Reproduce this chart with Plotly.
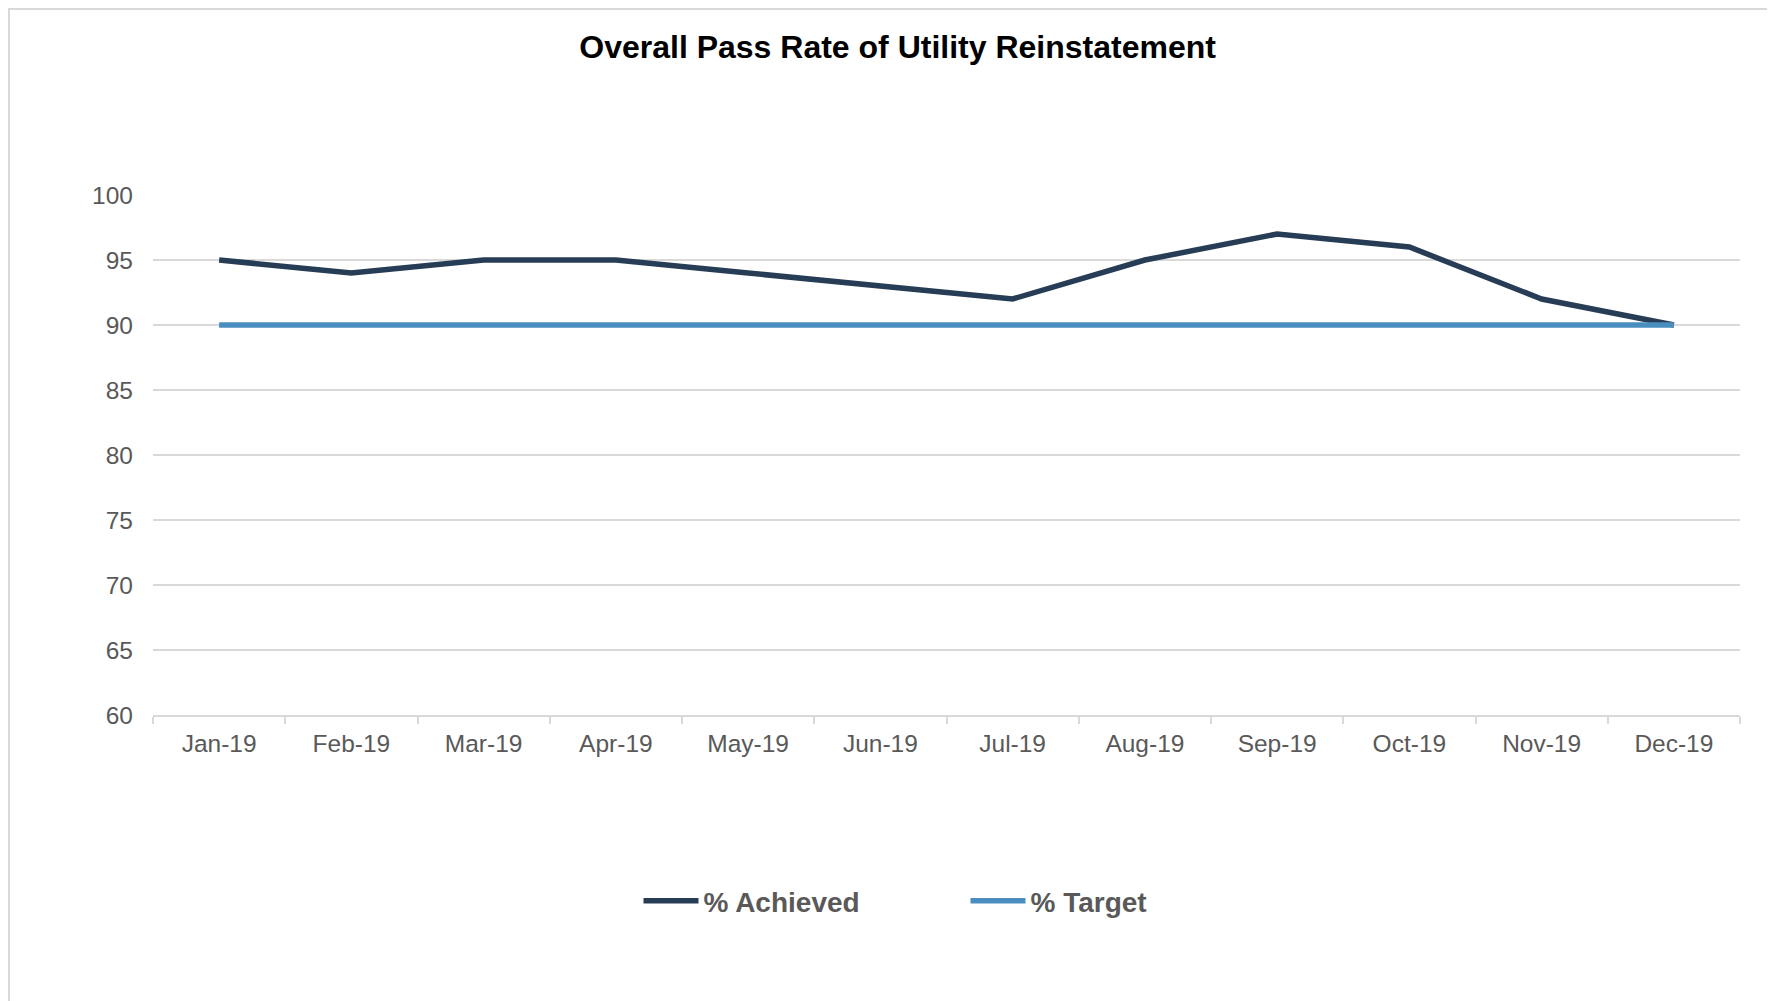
import plotly.graph_objects as go

months = ["Jan-19", "Feb-19", "Mar-19", "Apr-19", "May-19", "Jun-19",
          "Jul-19", "Aug-19", "Sep-19", "Oct-19", "Nov-19", "Dec-19"]
achieved = [95, 94, 95, 95, 94, 93, 92, 95, 97, 96, 92, 90]
target = [90, 90, 90, 90, 90, 90, 90, 90, 90, 90, 90, 90]
y_ticks = [60, 65, 70, 75, 80, 85, 90, 95, 100]

FONT = "Arial, 'Liberation Sans', sans-serif"
GRID = "#D9D9D9"
TEXT = "#595959"

fig = go.Figure()
fig.add_trace(go.Scatter(x=months, y=achieved, mode="lines", name="% Achieved",
                         line=dict(color="#263D55", width=5.5)))
fig.add_trace(go.Scatter(x=months, y=target, mode="lines", name="% Target",
                         line=dict(color="#4A8EC0", width=5.5)))

W, H = 1767, 993
L, R, T, B = 145, 35, 187, 286
pw = W - L - R
ph = H - T - B

def px_x(x):
    return (x - L) / pw

def px_y(y):
    return (H - B - y) / ph

fig.update_layout(
    width=W, height=H, autosize=False,
    margin=dict(l=L, r=R, t=T, b=B, autoexpand=False),
    paper_bgcolor="white", plot_bgcolor="white",
    font=dict(family=FONT, color=TEXT),
    title=dict(text="<b>Overall Pass Rate of Utility Reinstatement</b>",
               x=889.6 / W, xref="container", xanchor="center",
               y=1 - 39 / H, yref="container", yanchor="middle",
               font=dict(family=FONT, size=32, color="#000000")),
    xaxis=dict(type="category", showgrid=False, showline=True, linecolor=GRID, linewidth=2,
               ticks="outside", tickson="boundaries", ticklen=7, tickcolor=GRID, tickwidth=2,
               tickfont=dict(family=FONT, size=24.5, color=TEXT), ticklabelstandoff=6,
               tickangle=0, range=[-0.5, 11.5], zeroline=False, automargin=False),
    yaxis=dict(range=[60, 100], tickvals=y_ticks, showgrid=True, gridcolor=GRID, gridwidth=2,
               showline=False, ticks="", zeroline=False, automargin=False,
               tickfont=dict(family=FONT, size=24.5, color=TEXT), ticklabelstandoff=19),
    legend=dict(orientation="h", x=px_x(630.5), xref="paper", xanchor="left",
                y=px_y(893), yref="paper", yanchor="middle",
                font=dict(family=FONT, size=28, color=TEXT, weight="bold"),
                entrywidth=257, entrywidthmode="pixels", itemwidth=55),
    showlegend=True,
    shapes=[dict(type="rect", xref="paper", yref="paper",
                 x0=px_x(1), x1=px_x(1800), y0=px_y(1020), y1=px_y(1),
                 line=dict(color=GRID, width=2), layer="below")],
)

fig.write_html("out.html")
